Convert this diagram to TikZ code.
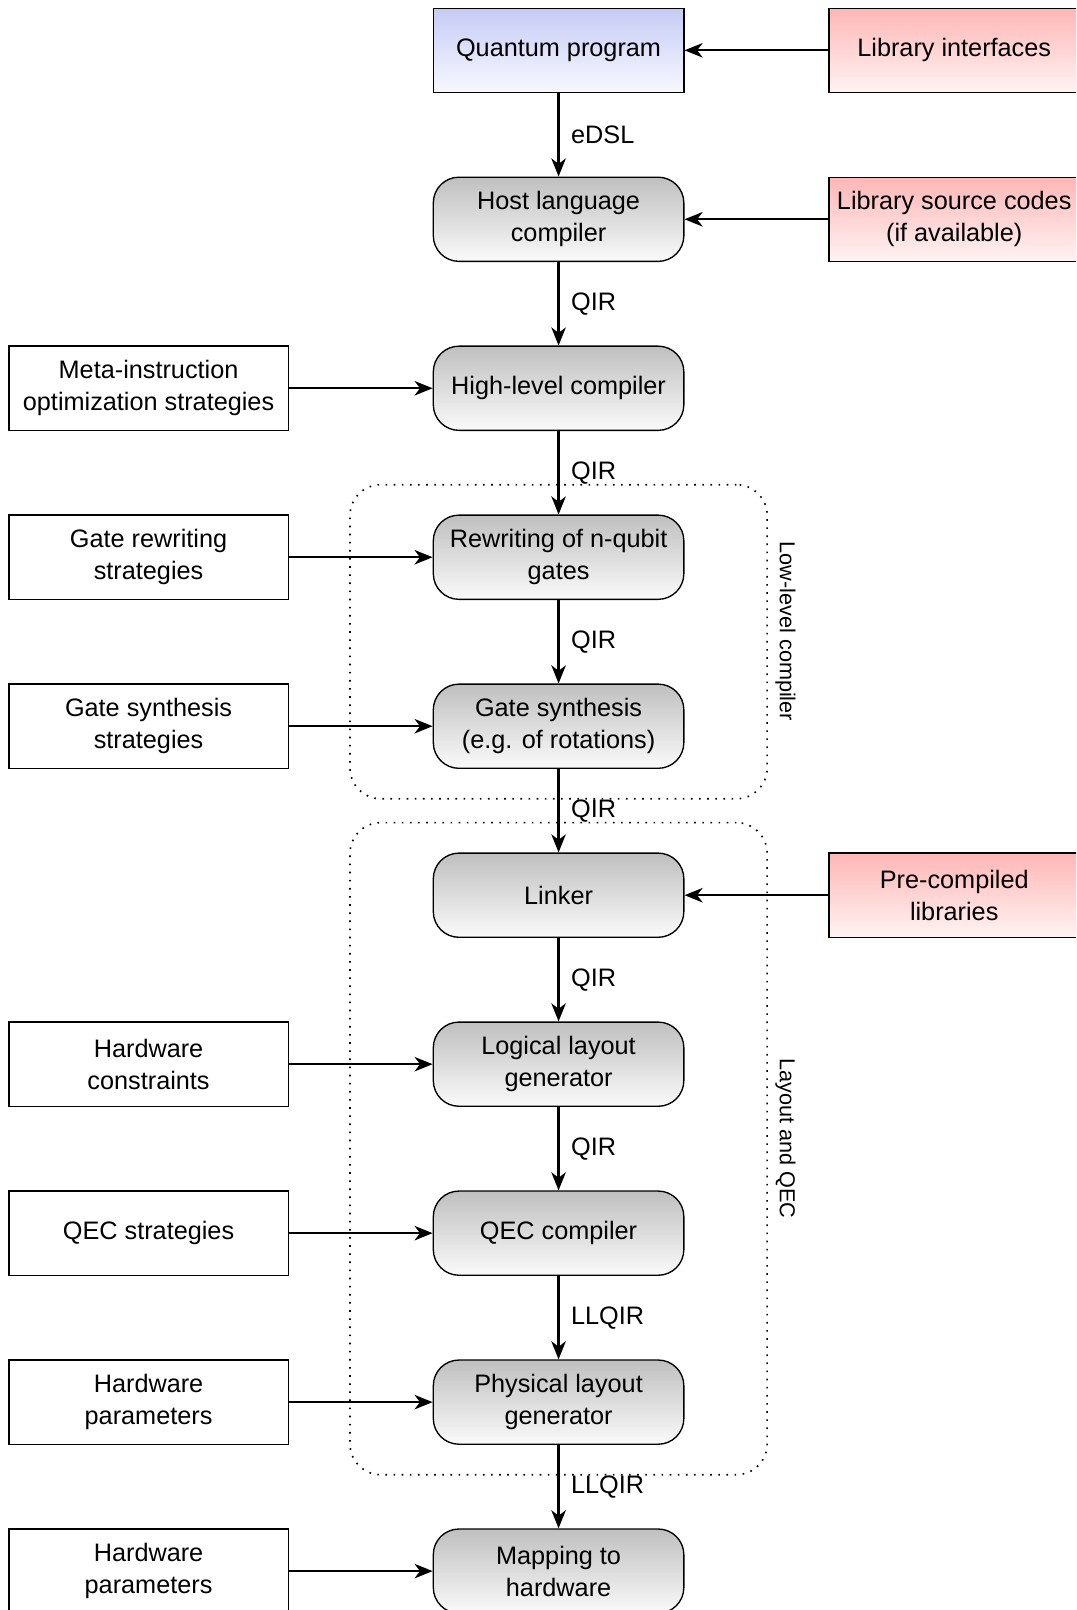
\documentclass[tikz,border=0pt]{standalone}
\usepackage{fontspec}
\setmainfont{Liberation Sans}
\usetikzlibrary{arrows.meta, positioning, fit}

\definecolor{progtop}{HTML}{C6CBF5}
\definecolor{progbot}{HTML}{F8F8FF}
\definecolor{libtop}{HTML}{FFB6B6}
\definecolor{libbot}{HTML}{FFF3F3}

\begin{document}
\begin{tikzpicture}[
    font=\fontsize{14pt}{17.6pt}\selectfont,
    node distance=1.625cm and 2.8cm,
    stage/.style={draw, line width=0.75pt, rounded corners=0.5cm, align=center,
        minimum width=4.88cm, minimum height=1.64cm, top color=black!25, bottom color=black!2},
    strat/.style={draw, line width=0.75pt, align=center, minimum width=5.44cm, minimum height=1.64cm},
    lib/.style={draw, line width=0.75pt, align=center, minimum width=4.88cm, minimum height=1.64cm,
        top color=libtop, bottom color=libbot},
    flow/.style={line width=1.25pt, -{Stealth[length=10pt, width=8pt, inset=3pt]}},
    lbl/.style={midway, right=3pt},
    group/.style={draw, line width=0.9pt, dash pattern=on 0.9pt off 3.6pt, rounded corners=0.6cm,
        inner xsep=1.61cm, inner ysep=0.58cm},
    tag/.style={font=\fontsize{12pt}{14pt}\selectfont, rotate=-90}
]
\useasboundingbox (0,0) rectangle (20.96,-31.36);
\clip (0,0) rectangle (20.96,-31.36);

% main chain
\node[draw, line width=0.75pt, minimum width=4.88cm, minimum height=1.64cm,
    top color=progtop, bottom color=progbot] (prog) at (10.88,-0.98) {Quantum program};
\node[stage, below=of prog] (host) {Host language\\compiler};
\node[stage, below=of host] (high) {High-level compiler};
\node[stage, below=of high] (rew) {Rewriting of n-qubit\\gates};
\node[stage, below=of rew] (gsyn) {Gate synthesis\\(e.g. of rotations)};
\node[stage, below=of gsyn] (link) {Linker};
\node[stage, below=of link] (logic) {Logical layout\\generator};
\node[stage, below=of logic] (qec) {QEC compiler};
\node[stage, below=of qec] (phys) {Physical layout\\generator};
\node[stage, below=of phys] (map) {Mapping to\\hardware};

% inputs on the left
\node[strat, left=of high] (meta) {Meta-instruction\\optimization strategies};
\node[strat, left=of rew] (rewstrat) {Gate rewriting\\strategies};
\node[strat, left=of gsyn] (synstrat) {Gate synthesis\\strategies};
\node[strat, left=of logic] (hwcons) {Hardware\\constraints};
\node[strat, left=of qec] (qecstrat) {QEC strategies};
\node[strat, left=of phys] (hwpar) {Hardware\\parameters};
\node[strat, left=of map] (hwpar2) {Hardware\\parameters};

% libraries on the right
\node[lib, right=of prog] (libif) {Library interfaces};
\node[lib, right=of host] (libsrc) {Library source codes\\(if available)};
\node[lib, right=of link] (libpre) {Pre-compiled\\libraries};

% groups
\node[group, fit=(rew)(gsyn)] (low) {};
\node[group, fit=(link)(phys)] (lay) {};
\node[tag] (lowtag) at ([xshift=0.34cm, yshift=0.2cm]low.east) {Low-level compiler};
\node[tag] (laytag) at ([xshift=0.34cm, yshift=0.2cm]lay.east) {Layout and QEC};

\draw[flow] (prog) -- node[lbl] {eDSL} (host);
\draw[flow] (host) -- node[lbl] {QIR} (high);
\draw[flow] (high) -- node[lbl] {QIR} (rew);
\draw[flow] (rew) -- node[lbl] {QIR} (gsyn);
\draw[flow] (gsyn) -- node[lbl] {QIR} (link);
\draw[flow] (link) -- node[lbl] {QIR} (logic);
\draw[flow] (logic) -- node[lbl] {QIR} (qec);
\draw[flow] (qec) -- node[lbl] {LLQIR} (phys);
\draw[flow] (phys) -- node[lbl] {LLQIR} (map);

\draw[flow] (meta) -- (high);
\draw[flow] (rewstrat) -- (rew);
\draw[flow] (synstrat) -- (gsyn);
\draw[flow] (hwcons) -- (logic);
\draw[flow] (qecstrat) -- (qec);
\draw[flow] (hwpar) -- (phys);
\draw[flow] (hwpar2) -- (map);

\draw[flow] (libif) -- (prog);
\draw[flow] (libsrc) -- (host);
\draw[flow] (libpre) -- (link);
\end{tikzpicture}
\end{document}
